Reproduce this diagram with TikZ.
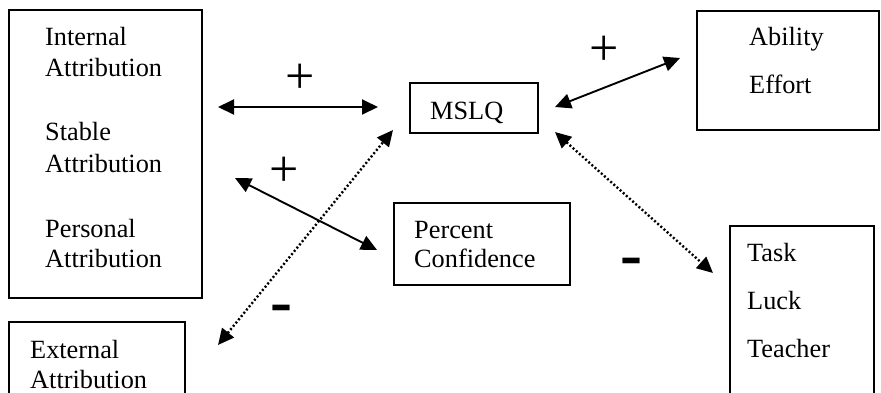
\documentclass[tikz,border=0pt]{standalone}
\usepackage{fontspec}
\setmainfont{Liberation Serif}
\usetikzlibrary{arrows.meta}
\begin{document}
\begin{tikzpicture}[x=1pt,y=-1pt,
  box/.style={draw, line width=2.2pt, rectangle, anchor=north west,
    inner sep=0pt, outer sep=0pt},
  word/.style={anchor=base west, inner sep=0pt,
    font=\fontsize{26.3}{31}\selectfont},
  link/.style={line width=1.9pt, {Triangle[length=16pt,width=15pt]}-{Triangle[length=16pt,width=15pt]}},
  dotlink/.style={link, line width=2.4pt, dash pattern=on 2pt off 2.2pt},
  plussign/.style={inner sep=0pt, font=\fontsize{52}{52}\selectfont},
  minussign/.style={anchor=base, inner sep=0pt,
    font=\bfseries\fontsize{66}{66}\selectfont}]

  % page frame
  \path[use as bounding box] (0,0) rectangle (881,392);
  \clip (0,0) rectangle (881,392);

  % boxes
  \node[box, minimum width=193pt, minimum height=288pt] (attr) at (9,10) {};
  \node[box, minimum width=128pt, minimum height=50pt]  (mslq) at (410,83) {};
  \node[box, minimum width=182pt, minimum height=119pt] (abil) at (697,11) {};
  \node[box, minimum width=176pt, minimum height=82pt]  (conf) at (394,203) {};
  \node[box, minimum width=144pt, minimum height=200pt] (task) at (730,226) {};
  \node[box, minimum width=176pt, minimum height=100pt] (ext)  at (9,322) {};

  % box texts
  \node[word] (internal) at (45,45)  {Internal};
  \node[word] (attrA)    at (45,76)  {Attribution};
  \node[word] (stable)   at (45,140) {Stable};
  \node[word] (attrB)    at (45,172) {Attribution};
  \node[word] (personal) at (45,237) {Personal};
  \node[word] (attrC)    at (45,267) {Attribution};

  \node[word] (mslqtxt)  at (430,119) {MSLQ};

  \node[word] (ability)  at (749,45) {Ability};
  \node[word] (effort)   at (749,93) {Effort};

  \node[word] (percent)  at (414,238) {Percent};
  \node[word] (confid)   at (414,267) {Confidence};

  \node[word] (tasktxt)  at (747,261) {Task};
  \node[word] (luck)     at (747,309) {Luck};
  \node[word] (teacher)  at (747,357) {Teacher};

  \node[word] (external) at (30,358) {External};
  \node[word] (attrD)    at (30,388) {Attribution};

  % arrow end points
  \coordinate (h1) at (218,107);
  \coordinate (h2) at (378,107);
  \coordinate (a1) at (555,107);
  \coordinate (a2) at (680,58);
  \coordinate (d1) at (555,132);
  \coordinate (d2) at (713,273);
  \coordinate (e1) at (218,345);
  \coordinate (e2) at (393,130);
  \coordinate (s1) at (235,178);
  \coordinate (s2) at (377,250);

  % connectors
  \draw[link] (h1) -- (h2);
  \draw[link] (a1) -- (a2);
  \draw[link] (s1) -- (s2);
  \draw[dotlink] (d1) -- (d2);
  \draw[dotlink] (e1) -- (e2);

  % signs
  \node[plussign] (p1) at (300,79) {+};
  \node[plussign] (p2) at (604,51) {+};
  \node[plussign] (p3) at (284,172) {+};
  \node[minussign] (m1) at (281,323) {-};
  \node[minussign] (m2) at (631,276) {-};
\end{tikzpicture}
\end{document}
